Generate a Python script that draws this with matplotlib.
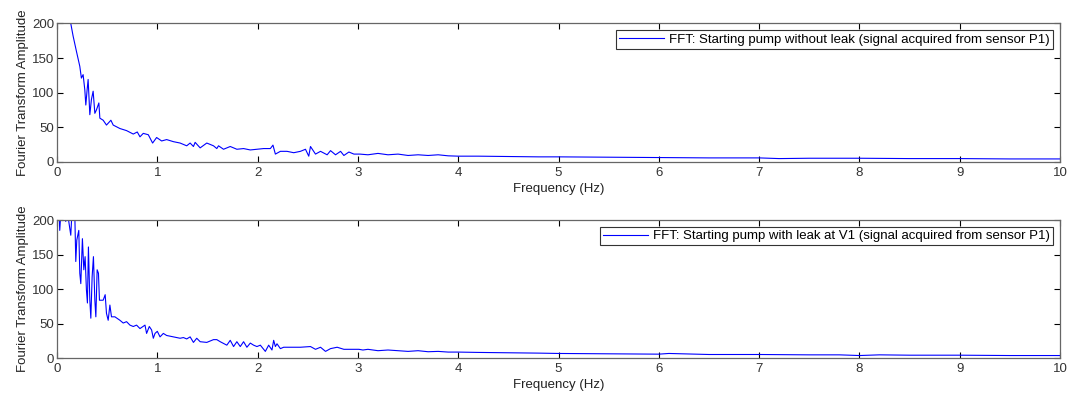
import numpy as np
from matplotlib import pyplot as plt

plt.rcParams['font.family'] = ['Liberation Sans', 'DejaVu Sans']

# top panel: pump without leak
freq_top = [0.12, 0.137, 0.16, 0.193, 0.227, 0.243, 0.26, 0.277, 0.287, 0.30, 0.31, 0.327,
            0.343, 0.36, 0.377, 0.393, 0.417, 0.427, 0.46, 0.493, 0.537, 0.56, 0.627, 0.693,
            0.76, 0.80, 0.827, 0.86, 0.91, 0.953, 0.993, 1.043, 1.093, 1.16, 1.227, 1.293,
            1.327, 1.36, 1.377, 1.427, 1.493, 1.56, 1.593, 1.61, 1.66, 1.727, 1.793, 1.86,
            1.927, 1.993, 2.06, 2.127, 2.153, 2.177, 2.227, 2.293, 2.36, 2.427, 2.477, 2.51,
            2.527, 2.577, 2.627, 2.693, 2.727, 2.777, 2.827, 2.86, 2.91, 2.96, 3.02,
            3.1, 3.2, 3.3, 3.4, 3.5, 3.6, 3.7, 3.8, 3.9, 4.0, 4.2, 4.5, 4.8, 5.0, 5.5, 6.0,
            6.5, 7.0, 7.2, 7.5, 8.0, 8.5, 9.0, 9.5, 10.0]
amp_top = [215, 200, 182, 160, 138, 121, 126, 104, 82, 104, 119, 68,
           90, 102, 70, 75, 85, 63, 60, 53, 60, 53, 48, 45,
           40, 43, 36, 41, 39, 27, 35, 30, 32, 29, 27, 23,
           27, 22, 28, 20, 27, 23, 19, 23, 18, 22, 18, 19,
           17, 18, 19, 19, 24, 11, 15, 15, 13, 15, 18, 8,
           22, 11, 15, 10, 16, 10, 15, 9, 14, 11, 11,
           10, 12, 10, 11, 9, 10, 9, 10, 8.5, 8, 8, 7.5, 7, 7, 6.5, 6,
           5.5, 5.5, 4.5, 5, 5, 4.5, 4.5, 4, 4]

# bottom panel: pump with leak at V1
freq_bot = [0.02, 0.027, 0.04, 0.087, 0.10, 0.137, 0.15, 0.177, 0.187, 0.197, 0.217, 0.227,
            0.237, 0.253, 0.267, 0.28, 0.293, 0.303, 0.313, 0.327, 0.337, 0.35, 0.363, 0.377,
            0.387, 0.40, 0.413, 0.423, 0.437, 0.46, 0.48, 0.493, 0.51, 0.527, 0.543, 0.577,
            0.627, 0.66, 0.693, 0.727, 0.76, 0.793, 0.827, 0.877, 0.893, 0.92, 0.943, 0.96,
            0.977, 1.0, 1.027, 1.06, 1.093, 1.16, 1.227, 1.26, 1.293, 1.327, 1.36, 1.393,
            1.427, 1.493, 1.56, 1.593, 1.627, 1.693, 1.727, 1.76, 1.793, 1.827, 1.86, 1.893,
            1.927, 1.96, 1.993, 2.027, 2.077, 2.11, 2.143, 2.16, 2.177, 2.193, 2.227, 2.26,
            2.36, 2.427, 2.527, 2.577, 2.627, 2.677, 2.727, 2.793, 2.86, 2.96, 3.01,
            3.05, 3.1, 3.2, 3.3, 3.4, 3.5, 3.6, 3.7, 3.8, 3.9, 4.0, 4.2, 4.5, 4.8, 5.0,
            5.5, 6.0, 6.1, 6.5, 7.0, 7.5, 7.8, 8.0, 8.2, 8.5, 9.0, 9.5, 10.0]
amp_bot = [215, 185, 215, 198, 215, 178, 215, 210, 140, 171, 185, 123,
           108, 173, 128, 147, 99, 80, 161, 84, 58, 118, 147, 84,
           60, 128, 123, 84, 84, 84, 92, 65, 55, 77, 60, 60,
           55, 51, 53, 48, 46, 48, 43, 48, 36, 46, 41, 29,
           36, 39, 31, 36, 33, 31, 29, 30, 28, 31, 23, 29,
           24, 23, 27, 27, 24, 19, 26, 17, 24, 17, 24, 16,
           22, 19, 17, 19, 10, 19, 12, 26, 17, 21, 14, 16,
           16, 16, 17, 13, 16, 10, 14, 16, 13, 13, 13,
           12, 13, 11, 12, 11, 10, 11, 9.5, 10, 9, 9, 8.5, 8, 7.5, 7,
           6.5, 6, 7, 5.5, 5.5, 5, 5, 4, 5, 4.5, 4.5, 4, 4]

labels = ["FFT: Starting pump without leak (signal acquired from sensor P1)",
          "FFT: Starting pump with leak at V1 (signal acquired from sensor P1)"]

fs = 9.5
fig = plt.figure(figsize=(10.68, 3.94), dpi=100)
ax1 = fig.add_axes([0.0534, 0.5896, 0.9391, 0.3508])
ax2 = fig.add_axes([0.0534, 0.0906, 0.9391, 0.351])

for ax, f, a, lab in zip([ax1, ax2], [freq_top, freq_bot], [amp_top, amp_bot], labels):
    ax.plot(f, a, color='#0000ff', lw=0.8, label=lab)
    ax.set_xlim(0, 10)
    ax.set_ylim(0, 200)
    ax.set_xticks(np.arange(0, 11, 1))
    ax.set_yticks([0, 50, 100, 150, 200])
    ax.tick_params(direction='in', top=True, right=True, labelsize=fs,
                   length=4, width=0.8, colors='black', labelcolor='#333333', pad=2)
    ax.tick_params(axis='x', pad=3.5)
    for s in ax.spines.values():
        s.set_color('#666666')
        s.set_linewidth(0.9)
    ax.set_xlabel("Frequency (Hz)", fontsize=fs, labelpad=3, color='#222222')
    ax.set_ylabel("Fourier Transform Amplitude", fontsize=fs, labelpad=2, color='#222222')
    leg = ax.legend(loc='upper right', fontsize=fs, fancybox=False, framealpha=1,
                    edgecolor='#333333', borderaxespad=0.5, handlelength=3.4,
                    borderpad=0.25, handletextpad=0.4)
    leg.get_frame().set_linewidth(0.8)

fig.savefig("out.png", dpi=100)
